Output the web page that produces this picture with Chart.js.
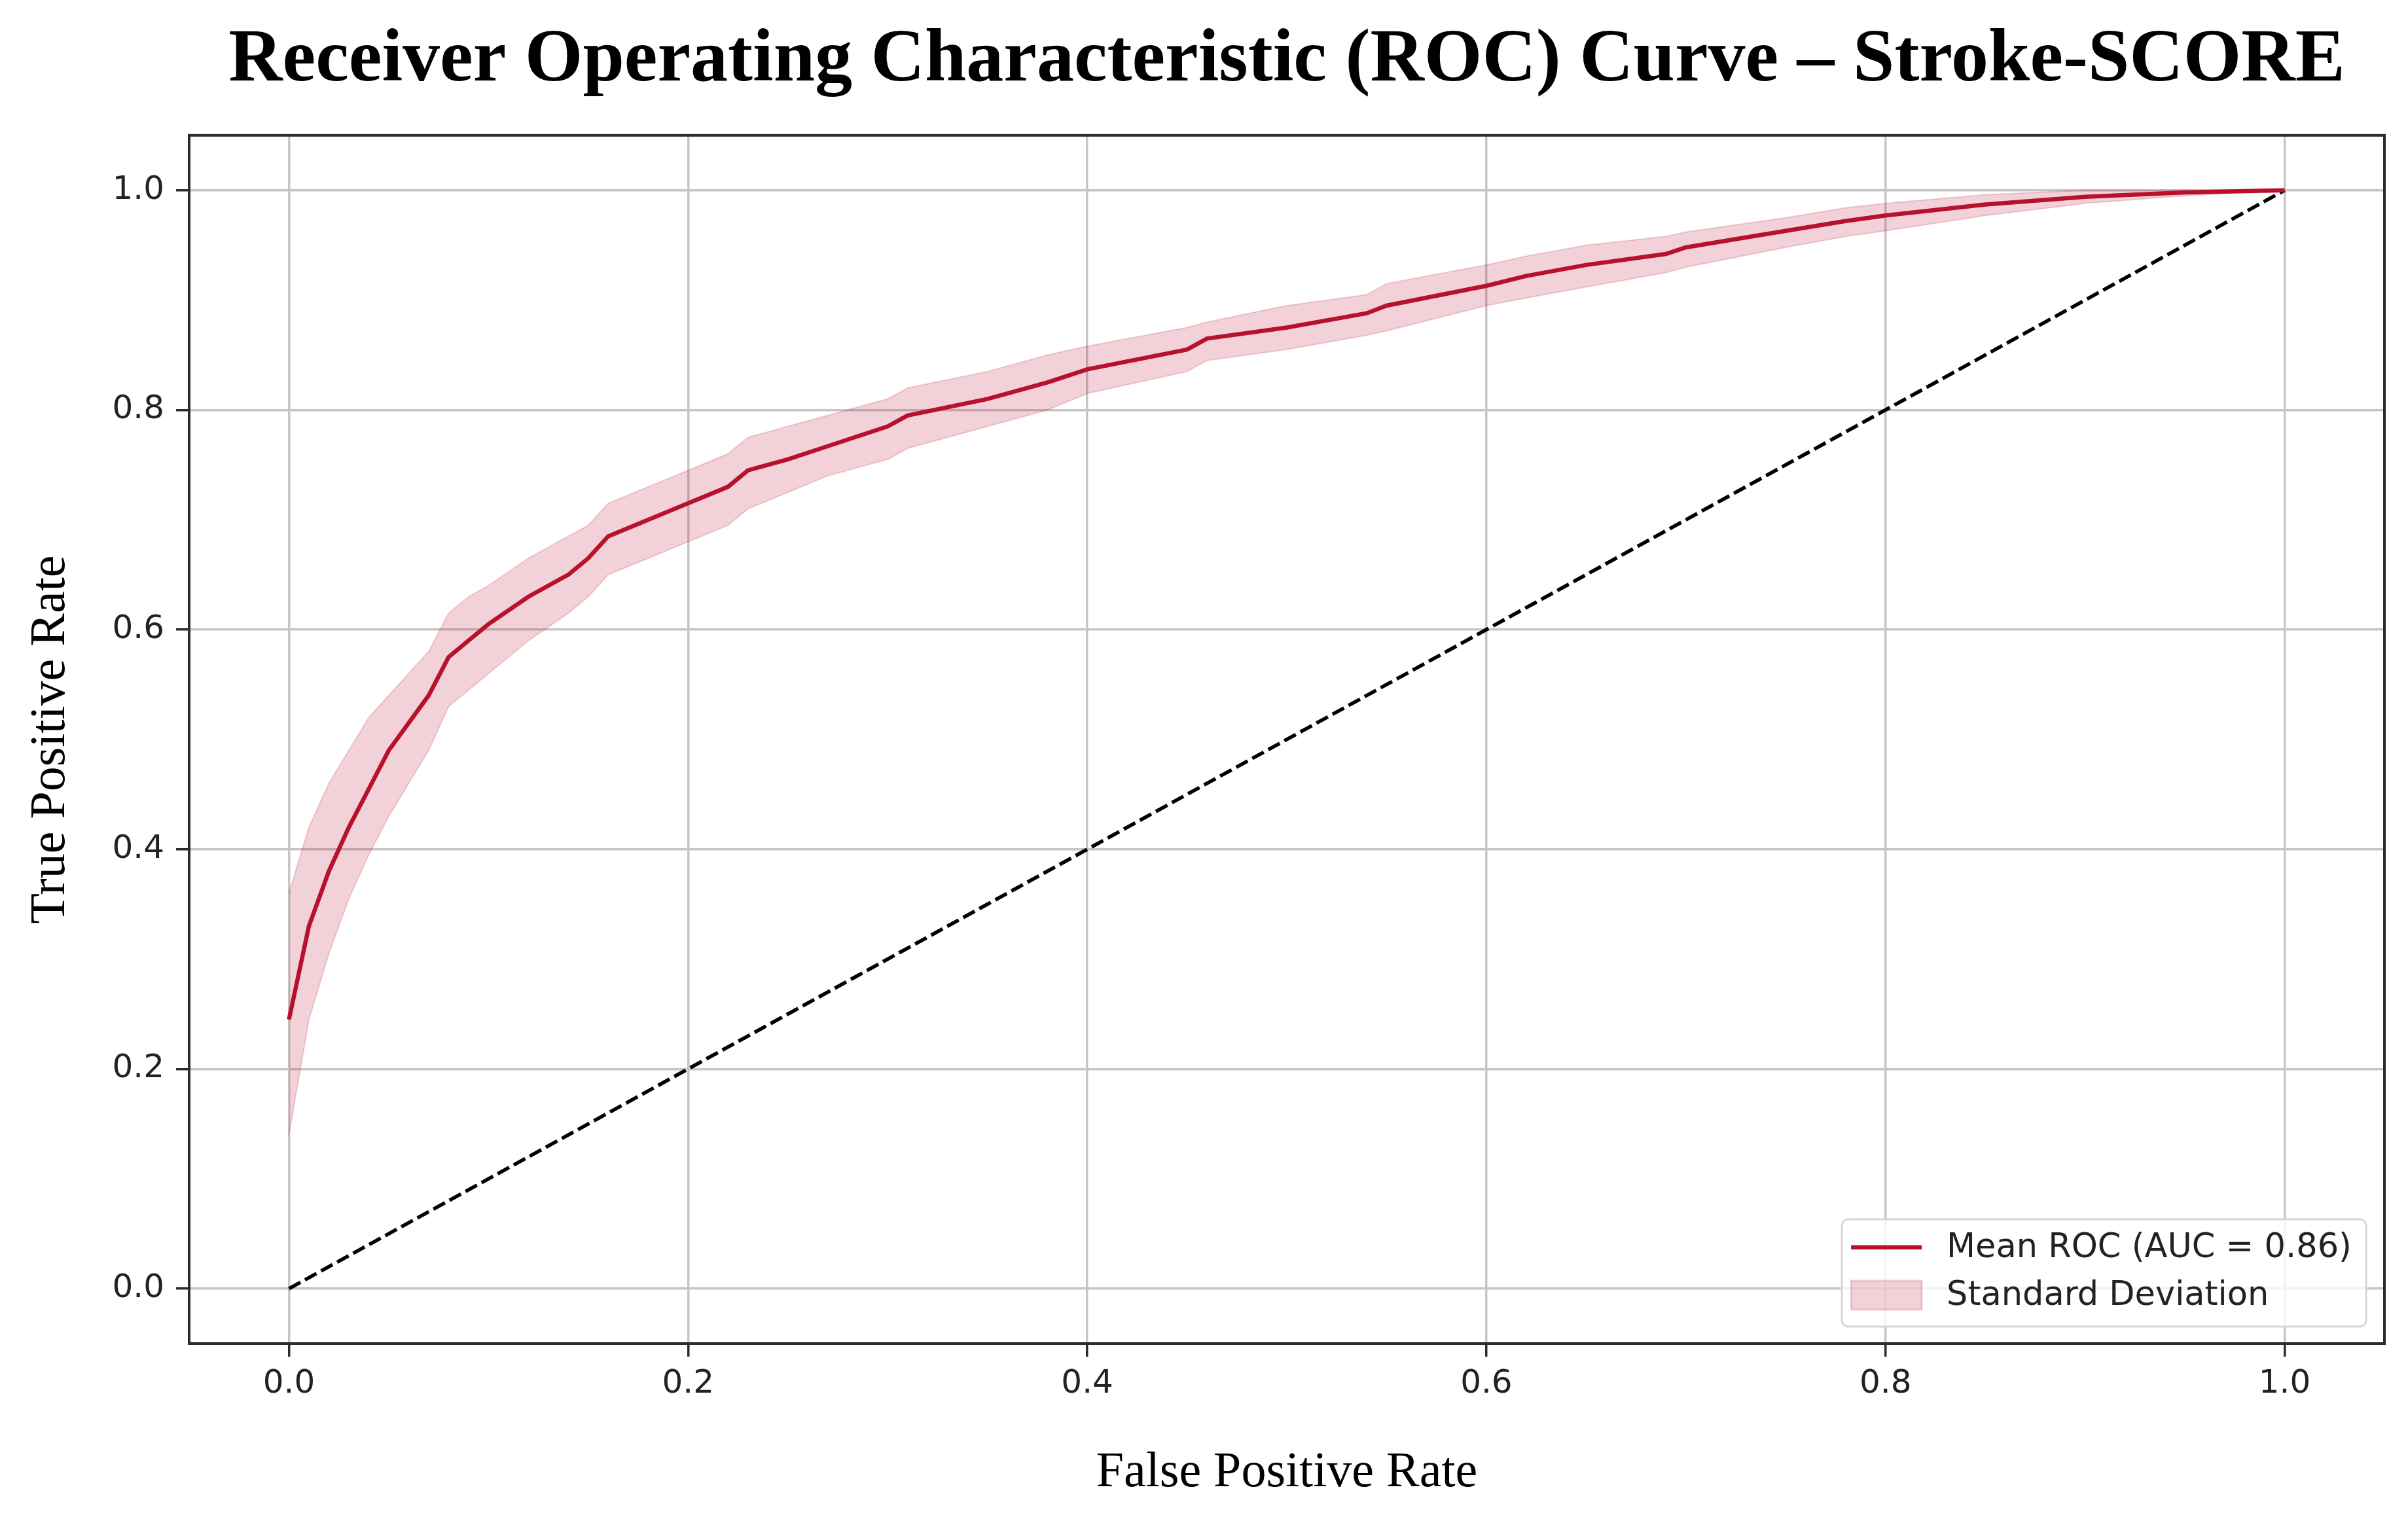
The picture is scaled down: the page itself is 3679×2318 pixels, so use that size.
<!DOCTYPE html>
<html>
<head>
<meta charset="utf-8">
<title>ROC Curve - Stroke-SCORE</title>
<script src="https://cdn.jsdelivr.net/npm/chart.js@4.4.0/dist/chart.umd.min.js"></script>
<style>
  html, body { margin: 0; padding: 0; background: #ffffff; }
  canvas { display: block; }
</style>
</head>
<body>
<canvas id="rocChart" width="3679" height="2318" style="width:3679px;height:2318px"></canvas>
<script>
// Values
const fpr = [0, 0.01, 0.02, 0.03, 0.04, 0.05, 0.06, 0.07, 0.08, 0.09, 0.10, 0.12, 0.14, 0.15, 0.16,
  0.18, 0.20, 0.22, 0.23, 0.25, 0.27, 0.30, 0.31, 0.35, 0.38, 0.40, 0.45, 0.46, 0.50, 0.54, 0.55,
  0.60, 0.62, 0.65, 0.69, 0.70, 0.75, 0.78, 0.80, 0.85, 0.90, 0.95, 1.0];
const meanTpr = [0.245, 0.33, 0.38, 0.42, 0.455, 0.49, 0.515, 0.54, 0.575, 0.59, 0.605, 0.63, 0.65, 0.665, 0.685,
  0.70, 0.715, 0.73, 0.745, 0.755, 0.767, 0.785, 0.795, 0.81, 0.825, 0.837, 0.855, 0.865, 0.875, 0.888, 0.895,
  0.913, 0.922, 0.932, 0.942, 0.948, 0.963, 0.972, 0.977, 0.987, 0.994, 0.998, 1.0];
const tprUpper = [0.36, 0.42, 0.46, 0.49, 0.52, 0.54, 0.56, 0.58, 0.615, 0.63, 0.64, 0.665, 0.685, 0.695, 0.715,
  0.73, 0.745, 0.76, 0.775, 0.785, 0.795, 0.81, 0.82, 0.835, 0.85, 0.858, 0.875, 0.88, 0.895, 0.905, 0.915,
  0.932, 0.94, 0.95, 0.958, 0.962, 0.975, 0.984, 0.988, 0.996, 1.0, 1.0, 1.0];
const tprLower = [0.14, 0.245, 0.305, 0.355, 0.395, 0.43, 0.46, 0.49, 0.53, 0.545, 0.56, 0.59, 0.615, 0.63, 0.65,
  0.665, 0.68, 0.695, 0.71, 0.725, 0.74, 0.755, 0.765, 0.785, 0.80, 0.815, 0.835, 0.845, 0.855, 0.868, 0.872,
  0.895, 0.902, 0.912, 0.925, 0.93, 0.948, 0.958, 0.963, 0.977, 0.988, 0.995, 1.0];
const chanceX = [0, 1];
const chanceY = [0, 1];
const tickValues = [0, 0.2, 0.4, 0.6, 0.8, 1.0];
const aucValue = 0.86;

const lineColor = '#b8112e';
const bandColor = 'rgba(190, 30, 60, 0.2)';
const gridColor = '#c6c6c6';
const spineColor = '#2b2b2b';

function toPoints(xs, ys) {
    return xs.map((x, i) => ({ x: x, y: ys[i] }));
}

// Frame around the plot area (all four spines)
const frameSpines = {
    id: 'frameSpines',
    afterDatasetsDraw(chart) {
        const { ctx, chartArea } = chart;
        ctx.save();
        ctx.strokeStyle = spineColor;
        ctx.lineWidth = 4;
        ctx.strokeRect(chartArea.left, chartArea.top, chartArea.right - chartArea.left, chartArea.bottom - chartArea.top);
        ctx.restore();
    }
};

// Legend drawn inside the plot, lower right
const insideLegend = {
    id: 'insideLegend',
    afterDraw(chart) {
        const { ctx, chartArea } = chart;
        const items = chart.data.datasets.filter(d => d.legendKind);
        ctx.save();
        ctx.font = '51px "DejaVu Sans"';
        const textW = Math.max(...items.map(d => ctx.measureText(d.label).width));
        const w = 160 + textW + 22;
        const h = 164;
        const x = chartArea.right - 28 - w;
        const y = chartArea.bottom - 26 - h;

        ctx.beginPath();
        ctx.roundRect(x, y, w, h, 10);
        ctx.fillStyle = 'rgba(255, 255, 255, 0.8)';
        ctx.fill();
        ctx.strokeStyle = '#d6d6d6';
        ctx.lineWidth = 3;
        ctx.stroke();

        items.forEach((d, i) => {
            const cy = y + 43 + i * 73;
            if (d.legendKind === 'line') {
                ctx.strokeStyle = d.borderColor;
                ctx.lineWidth = 6.5;
                ctx.beginPath();
                ctx.moveTo(x + 14, cy);
                ctx.lineTo(x + 122, cy);
                ctx.stroke();
            } else {
                ctx.fillStyle = d.backgroundColor;
                ctx.fillRect(x + 14, cy - 22, 108, 44);
                ctx.strokeStyle = d.backgroundColor;
                ctx.lineWidth = 3;
                ctx.strokeRect(x + 14, cy - 22, 108, 44);
            }
            ctx.fillStyle = '#222222';
            ctx.textBaseline = 'middle';
            ctx.textAlign = 'left';
            ctx.fillText(d.label, x + 160, cy + 2);
        });
        ctx.restore();
    }
};

function setTicks(scale) {
    scale.ticks = tickValues.map(v => ({ value: v }));
}

Chart.defaults.font.family = '"DejaVu Sans", sans-serif';
Chart.defaults.color = '#222222';

const ctx = document.getElementById('rocChart').getContext('2d');
new Chart(ctx, {
    type: 'scatter',
    data: {
        datasets: [
            {
                label: 'Mean ROC (AUC = ' + aucValue.toFixed(2) + ')',
                legendKind: 'line',
                data: toPoints(fpr, meanTpr),
                showLine: true,
                borderColor: lineColor,
                borderWidth: 6.5,
                pointRadius: 0,
                fill: false
            },
            {
                label: 'Chance',
                data: toPoints(chanceX, chanceY),
                showLine: true,
                borderColor: '#000000',
                borderWidth: 5.5,
                borderDash: [20, 8],
                pointRadius: 0,
                fill: false
            },
            {
                label: 'Standard Deviation',
                legendKind: 'patch',
                data: toPoints(fpr, tprUpper),
                showLine: true,
                borderColor: bandColor,
                borderWidth: 2,
                backgroundColor: bandColor,
                pointRadius: 0,
                fill: '+1'
            },
            {
                label: 'lower',
                data: toPoints(fpr, tprLower),
                showLine: true,
                borderColor: bandColor,
                borderWidth: 2,
                pointRadius: 0,
                fill: false
            }
        ]
    },
    options: {
        responsive: false,
        devicePixelRatio: 1,
        animation: false,
        layout: {
            padding: { left: 0, top: 0, right: 36, bottom: 0 }
        },
        plugins: {
            legend: { display: false },
            tooltip: { enabled: false },
            title: {
                display: true,
                fullSize: false,
                text: 'Receiver Operating Characteristic (ROC) Curve \u2013 Stroke-SCORE',
                color: '#000000',
                font: { family: '"Liberation Serif", serif', size: 114, weight: 'bold', lineHeight: 1.2 },
                padding: { top: 25, bottom: 45 }
            }
        },
        scales: {
            x: {
                type: 'linear',
                min: -0.05,
                max: 1.05,
                afterBuildTicks: setTicks,
                afterFit: s => { s.height = 265; },
                border: { display: false },
                grid: {
                    color: gridColor,
                    lineWidth: 3.5,
                    tickColor: spineColor,
                    tickLength: 20,
                    tickWidth: 3.5
                },
                ticks: {
                    font: { size: 50 },
                    padding: 12,
                    maxRotation: 0,
                    callback: v => v.toFixed(1)
                },
                title: {
                    display: true,
                    text: 'False Positive Rate',
                    color: '#000000',
                    font: { family: '"Liberation Serif", serif', size: 76, lineHeight: 1.2 },
                    padding: { top: 0, bottom: 21 }
                }
            },
            y: {
                type: 'linear',
                min: -0.05,
                max: 1.05,
                afterBuildTicks: setTicks,
                afterFit: s => { s.width = 289; },
                border: { display: false },
                grid: {
                    color: gridColor,
                    lineWidth: 3.5,
                    tickColor: spineColor,
                    tickLength: 20,
                    tickWidth: 3.5
                },
                ticks: {
                    font: { size: 50 },
                    padding: 18,
                    callback: v => v.toFixed(1)
                },
                title: {
                    display: true,
                    text: 'True Positive Rate',
                    color: '#000000',
                    font: { family: '"Liberation Serif", serif', size: 76, lineHeight: 1.2 },
                    padding: { top: 32, bottom: 0 }
                }
            }
        }
    },
    plugins: [frameSpines, insideLegend]
});
</script>
</body>
</html>
